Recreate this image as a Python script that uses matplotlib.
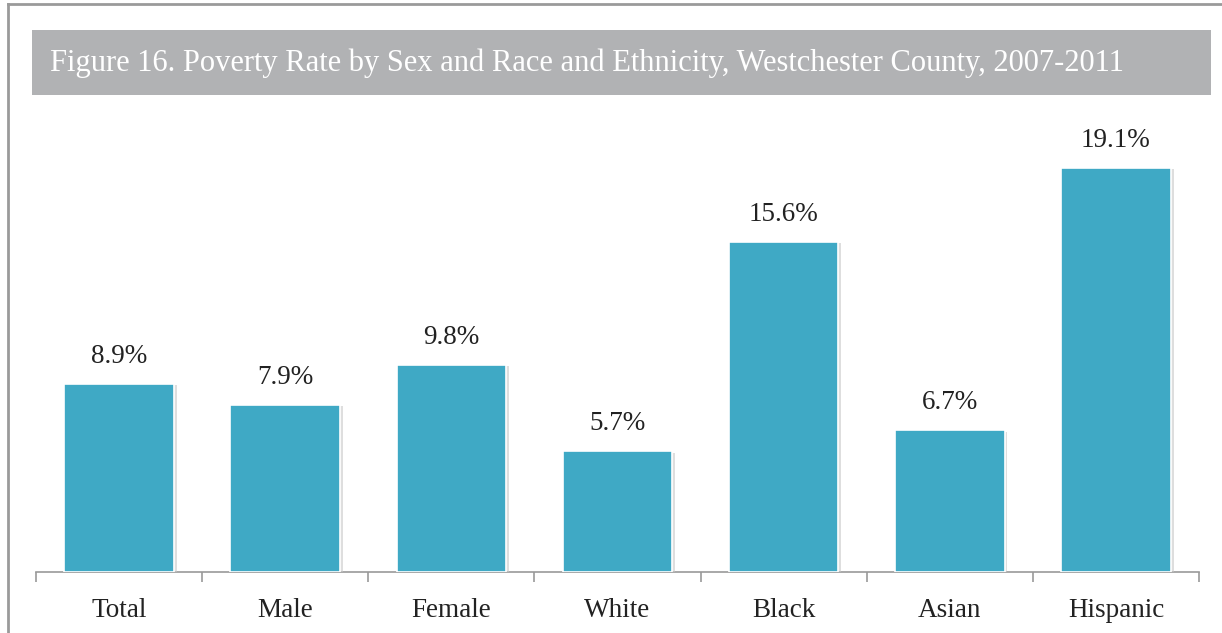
import matplotlib
matplotlib.use("Agg")
import matplotlib.pyplot as plt
from matplotlib.patches import Rectangle
import matplotlib.patheffects as pe

categories = ["Total", "Male", "Female", "White", "Black", "Asian", "Hispanic"]
values = [8.9, 7.9, 9.8, 5.7, 15.6, 6.7, 19.1]
labels = ["8.9%", "7.9%", "9.8%", "5.7%", "15.6%", "6.7%", "19.1%"]
title = "Figure 16. Poverty Rate by Sex and Race and Ethnicity, Westchester County, 2007-2011"

W, H = 1222, 633
PX = 72 / 100  # points per pixel
fig = plt.figure(figsize=(W / 100, H / 100), dpi=100)
fig.patch.set_facecolor("white")

# frame lines (top and left)
fig.add_artist(plt.Line2D([8 / W, 8 / W], [0, 1 - 4 / H], color="#9a9a9a", lw=2))
fig.add_artist(plt.Line2D([8 / W, 1], [1 - 4 / H, 1 - 4 / H], color="#9a9a9a", lw=2))

# title band
fig.add_artist(Rectangle((32 / W, 1 - 95 / H), (1211 - 32) / W, 65 / H,
                         facecolor="#b1b2b4", edgecolor="none", transform=fig.transFigure))
fig.text(50 / W, 1 - 71 / H, title, color="white", fontsize=22,
         family="Liberation Serif", va="baseline", ha="left")

ax_left, ax_right = 36, 1199
ax_top, ax_bottom = 110, 572
ax = fig.add_axes([ax_left / W, 1 - ax_bottom / H, (ax_right - ax_left) / W, (ax_bottom - ax_top) / H])
ax.set_xlim(-0.5, len(categories) - 0.5)
ax.set_ylim(0, (ax_bottom - ax_top) / (404 / 19.1))

x = list(range(len(categories)))
bars = ax.bar(x, values, width=0.66, color="#3fa9c5", edgecolor="white", linewidth=1.2, zorder=3)
for b in bars:
    b.set_path_effects([pe.SimplePatchShadow(offset=(2, -1), shadow_rgbFace="#c8c8c8", alpha=0.6), pe.Normal()])

for xi, v, lab in zip(x, values, labels):
    ax.annotate(lab, (xi, v), xytext=(0, 21 * PX), textcoords="offset points",
                ha="center", va="baseline", fontsize=19.5, family="Liberation Serif", color="#222222")

for xi, cat in zip(x, categories):
    ax.annotate(cat, (xi, 0), xycoords=("data", "axes fraction"), xytext=(0, -45 * PX),
                textcoords="offset points", ha="center", va="baseline",
                fontsize=19.5, family="Liberation Serif", color="#222222", annotation_clip=False)

for s in ["top", "right", "left"]:
    ax.spines[s].set_visible(False)
ax.spines["bottom"].set_color("#999999")
ax.spines["bottom"].set_linewidth(1.2)
ax.set_yticks([])
ax.set_xticks([i - 0.5 for i in range(len(categories) + 1)])
ax.set_xticklabels([])
ax.tick_params(axis="x", which="major", length=7, width=1.2, color="#999999", direction="out")

fig.savefig("out.png", dpi=100, facecolor="white")
